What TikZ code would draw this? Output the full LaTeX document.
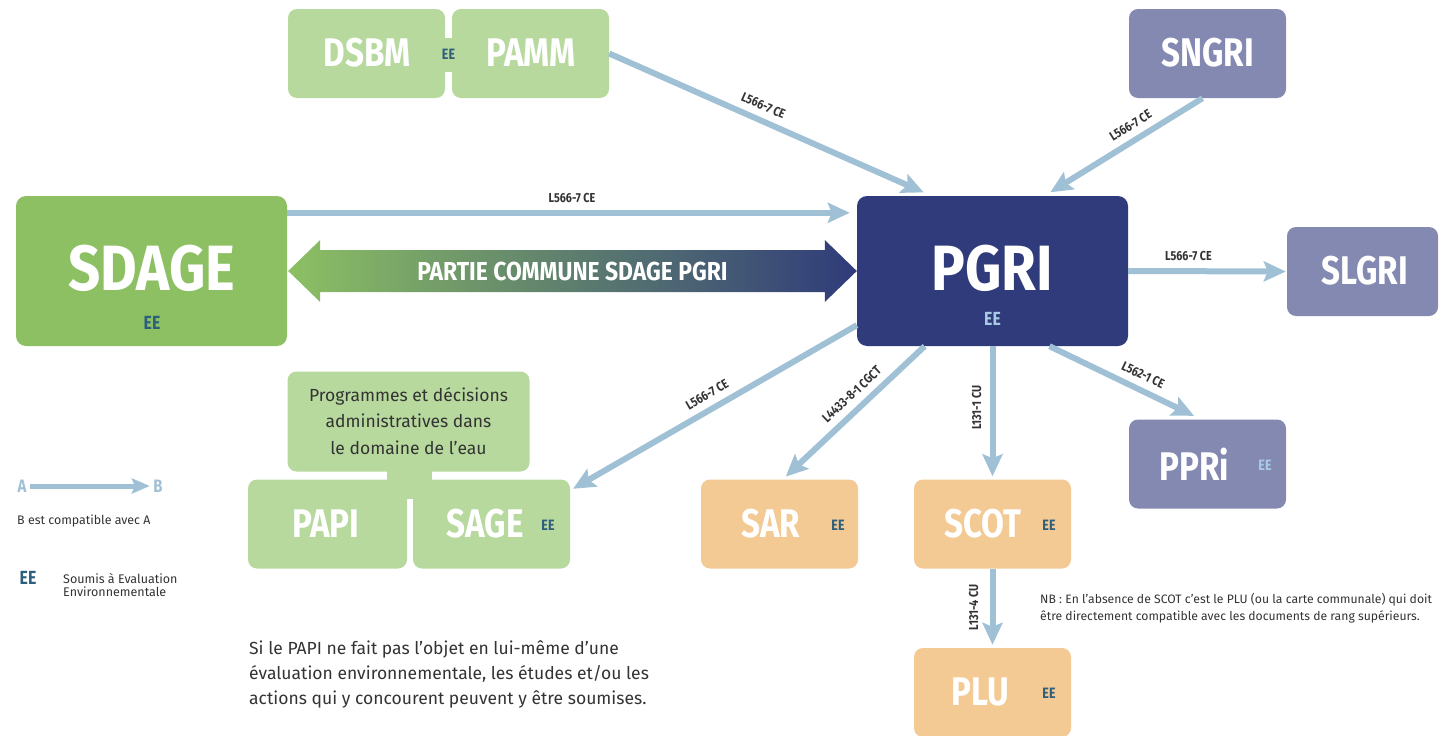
\documentclass[tikz,border=0pt]{standalone}
\usepackage{fontspec}
\setmainfont{Fira Sans}
\newfontfamily\cond[FakeStretch=0.83]{Fira Sans}
\newfontfamily\condw[FakeStretch=0.88]{Fira Sans}
\usetikzlibrary{arrows.meta,calc}
\definecolor{arr}{HTML}{A0C1D5}
\definecolor{sdg}{HTML}{8CC063}
\definecolor{lgr}{HTML}{B7D99E}
\definecolor{navy}{HTML}{2F3B7A}
\definecolor{lav}{HTML}{8489B1}
\definecolor{peach}{HTML}{F3C994}
\definecolor{eec}{HTML}{2D5F7D}
\definecolor{eel}{HTML}{A8CBE3}
\definecolor{txt}{HTML}{333333}
\begin{document}
\begin{tikzpicture}[x=1pt,y=-1pt,
  box/.style={rounded corners=9pt, minimum width=157pt, minimum height=89pt, inner sep=0pt},
  bigbox/.style={rounded corners=10pt, minimum width=271pt, minimum height=150pt, inner sep=0pt},
  big/.style={font=\cond\bfseries\fontsize{40}{40}\selectfont, text=white, inner sep=0pt},
  huge/.style={font=\condw\bfseries\fontsize{64}{64}\selectfont, text=white, inner sep=0pt},
  ee/.style={font=\cond\bfseries\fontsize{15}{15}\selectfont, text=eec, inner sep=0pt},
  eebig/.style={font=\cond\bfseries\fontsize{19}{19}\selectfont, text=eec, inner sep=0pt},
  lab/.style={font=\cond\bfseries\fontsize{13}{13}\selectfont, text=txt, inner sep=1pt},
  link/.style={draw=arr, line width=6pt, -{Stealth[length=22pt,width=20pt,inset=4pt]}, shorten >=1pt}]
\useasboundingbox (0,0) rectangle (1441,736);

% ---- boxes
\node[box, fill=lgr] (dsbm) at (366.5,53.5) {};
\node[box, fill=lgr] (pamm) at (530.5,53.5) {};
\fill[lgr] (440,38) rectangle (457,72);
\node[big] at (367,53) {DSBM};
\node[big] at (531,53) {PAMM};
\node[ee] (eedp) at (448.5,54) {EE};

\node[box, fill=lav] (sngri) at (1207.5,53.5) {};
\node[big] at (1207.5,53) {SNGRI};

\node[bigbox, fill=sdg] (sdage) at (151.5,271) {};
\node[huge] at (152,268) {SDAGE};
\node[eebig] at (152,323) {EE};

\node[bigbox, fill=navy] (pgri) at (992.5,271) {};
\node[huge] at (992.5,268) {PGRI};
\node[eebig, text=eel] at (992.5,319) {EE};

\node[box, fill=lav, minimum width=151pt] (slgri) at (1362.5,271.5) {};
\node[big] at (1365,271) {SLGRI};

\node[box, fill=lav] (ppri) at (1207.5,464) {};
\node[big] at (1194,464) {PPRi};
\node[ee, text=eel] at (1265,465) {EE};

\node[rounded corners=9pt, minimum width=242pt, minimum height=100pt, fill=lgr, inner sep=0pt] (prog) at (408.5,421.5) {};
\node[align=center, text=txt, font=\fontsize{17.5}{26.5}\selectfont, inner sep=0pt] at (408.5,421) {Programmes et décisions\\administratives dans\\le domaine de l’eau};
\node[box, fill=lgr, minimum width=159pt] (papi) at (327.5,524) {};
\node[box, fill=lgr] (sage) at (491.5,524) {};
\fill[lgr] (387,465) rectangle (432,499);
\node[big] at (326,524) {PAPI};
\node[big] at (485,524) {SAGE};
\node[ee] at (548,525) {EE};

\node[box, fill=peach] (sar) at (779.5,524) {};
\node[big] at (771,524) {SAR};
\node[ee] at (838,525) {EE};

\node[box, fill=peach] (scot) at (992.5,524) {};
\node[big] at (983,524) {SCOT};
\node[ee] at (1049,525) {EE};

\node[box, fill=peach] (plu) at (992.5,692.5) {};
\node[big] at (980,692) {PLU};
\node[ee] at (1049,693) {EE};

% ---- common part double arrow
\coordinate (dl) at ($(sdage.east)+(1,0)$);
\coordinate (dr) at (pgri.west);
\shade[left color=sdg, right color=navy]
  (dl) -- ++(32,-31) -- ++(0,10) -- ($(dr)+(-32,-21)$) -- ++(0,-10) -- (dr)
  -- ++(-32,31) -- ++(0,-10) -- ($(dl)+(32,21)$) -- ++(0,10) -- cycle;
\node[font=\condw\bfseries\fontsize{26}{26}\selectfont, text=white] (common) at ($(dl)!0.5!(dr)$) {PARTIE COMMUNE SDAGE PGRI};

% ---- connectors
\draw[link] (pamm.east) -- ($(pgri.north west)!0.25!(pgri.north east)+(0,-3)$)
  node[lab, pos=0.47, sloped, above=6pt] {L566-7 CE};
\draw[link] ($(sngri.south)+(-5,0)$) -- ($(pgri.north west)!0.71!(pgri.north east)+(0,-3)$)
  node[lab, pos=0.42, sloped, above=6pt] {L566-7 CE};
\draw[link, shorten >=7pt] ($(sdage.north east)+(0,17)$) -- ($(pgri.north west)+(0,17)$)
  node[lab, midway, above=6pt] {L566-7 CE};
\draw[link] (pgri.east) -- (slgri.west)
  node[lab, pos=0.38, above=6pt] {L566-7 CE};
\draw[link] ($(pgri.south west)!0.71!(pgri.south east)$) -- ($(ppri.north west)!0.42!(ppri.north east)+(0,-3)$)
  node[lab, pos=0.6, sloped, above=6pt] {L562-1 CE};
\draw[link] ($(pgri.south west)+(0,-21)$) -- ($(sage.north east)+(2,10)$)
  node[lab, pos=0.5, sloped, above=6pt] {L566-7 CE};
\draw[link] ($(pgri.south west)!0.25!(pgri.south east)$) -- ($(sar.north west)!0.535!(sar.north east)+(0,-2)$)
  node[lab, pos=0.45, sloped, above=6pt] {L4433-8-1 CGCT};
\draw[link] (pgri.south) -- ($(scot.north)+(0,-2)$)
  node[lab, pos=0.47, xshift=-16pt, rotate=90] {L131-1 CU};
\draw[link] (scot.south) -- ($(plu.north)+(0,-2)$)
  node[lab, pos=0.5, xshift=-19pt, rotate=90] {L131-4 CU};

% ---- legend
\node[font=\cond\bfseries\fontsize{18}{18}\selectfont, text=arr] (legA) at (22,486) {A};
\node[font=\cond\bfseries\fontsize{18}{18}\selectfont, text=arr] (legB) at (158,486) {B};
\draw[draw=arr, line width=5pt, -{Stealth[length=18pt,width=15pt,inset=3pt]}] (legA.east) -- (legB.west);
\node[anchor=west, font=\fontsize{12.4}{12.4}\selectfont, text=txt, inner sep=0pt] at (17,521) {B est compatible avec A};
\node[font=\cond\bfseries\fontsize{19}{19}\selectfont, text=eec, inner sep=0pt] at (28,578) {EE};
\node[anchor=west, align=left, font=\fontsize{12.5}{12.5}\selectfont, text=txt, inner sep=0pt] at (63,585) {Soumis à Evaluation\\Environnementale};

\node[anchor=north west, align=left, font=\fontsize{12.2}{17}\selectfont, text=txt, inner sep=0pt] at (1040,593) {NB : En l’absence de SCOT c’est le PLU (ou la carte communale) qui doit\\être directement compatible avec les documents de rang supérieurs.};

\node[anchor=north west, align=left, font=\fontsize{17.5}{25}\selectfont, text=txt, inner sep=0pt] at (249,640) {Si le PAPI ne fait pas l’objet en lui-même d’une\\évaluation environnementale, les études et/ou les\\actions qui y concourent peuvent y être soumises.};
\end{tikzpicture}
\end{document}
